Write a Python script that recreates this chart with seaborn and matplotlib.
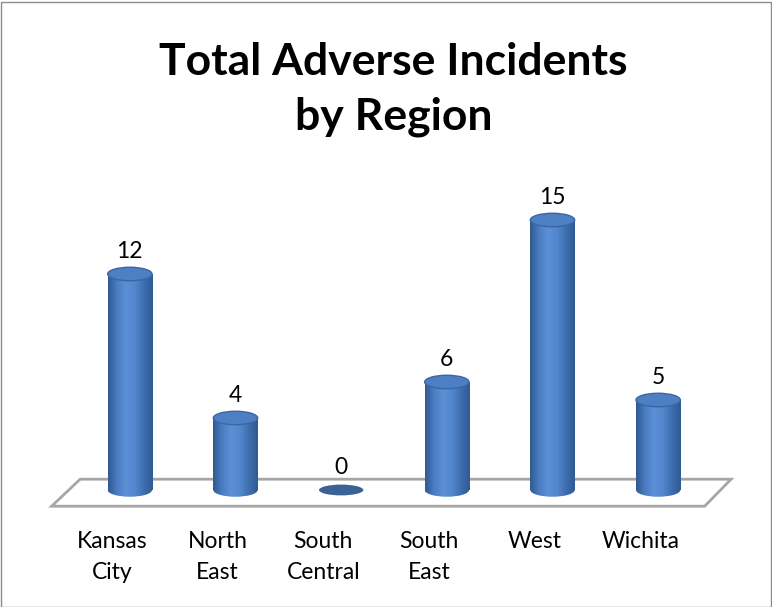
import matplotlib
matplotlib.use("Agg")
import matplotlib.pyplot as plt
import numpy as np
import seaborn as sns
from matplotlib.colors import LinearSegmentedColormap
from matplotlib.patches import Ellipse, Polygon, Rectangle

# Data
regions = ["Kansas\nCity", "North\nEast", "South\nCentral", "South\nEast", "West", "Wichita"]
incidents = [12, 4, 0, 6, 15, 5]
title = "Total Adverse Incidents\nby Region"

sns.set_style("white")
plt.rcParams["font.family"] = ["Lato", "DejaVu Sans"]
plt.rcParams["text.color"] = "black"

fig = plt.figure(figsize=(7.72, 6.07), dpi=100)
# axes placed so the bars line up with the reference
ax = fig.add_axes([77 / 772, 81 / 607, 634 / 772, 342 / 607])

bar_w = 0.42
sns.barplot(x=regions, y=incidents, ax=ax, width=bar_w, color="#4a7cc0",
            edgecolor="none", zorder=3)

# cylinder shading
cyl = LinearSegmentedColormap.from_list(
    "cyl", ["#2f5990", "#4b7dc2", "#5b8fd6", "#5288cf", "#3e6eae", "#2f5a92"])
grad = np.linspace(0, 1, 256).reshape(1, -1)
ell_h = 0.75

for i, (patch, val) in enumerate(zip(ax.patches, incidents)):
    x0 = patch.get_x()
    w = patch.get_width()
    xc = x0 + w / 2
    if val > 0:
        im = ax.imshow(grad, extent=(x0, x0 + w, -1, val), aspect="auto",
                       cmap=cyl, zorder=4)
        im.set_clip_path(patch)
        bottom = Ellipse((xc, 0), w, ell_h, facecolor="none", edgecolor="none", zorder=4)
        ax.add_patch(bottom)
        im2 = ax.imshow(grad, extent=(x0, x0 + w, -1, val), aspect="auto",
                        cmap=cyl, zorder=4)
        im2.set_clip_path(bottom)
        top = Ellipse((xc, val), w, ell_h, facecolor="#4d7fc4",
                      edgecolor="#3b66a3", lw=1.0, zorder=5)
        ax.add_patch(top)
    else:
        ax.add_patch(Ellipse((xc, 0), w, ell_h * 0.8, facecolor="#3a6295",
                             edgecolor="none", zorder=5))
    ax.text(xc, val + 1.25, str(val), ha="center", va="center",
            fontsize=16.5, color="black", zorder=6)
    # category label sits at the front edge of the floor (shifted left)
    ax.text(i - 0.17, -2.25, regions[i], ha="center", va="top",
            fontsize=16.5, color="black", linespacing=1.62)

# floor
floor = Polygon([(-0.47, 0.6), (5.69, 0.6), (5.44, -0.9), (-0.74, -0.9)],
                closed=True, facecolor="white", edgecolor="#a6a6a6", lw=2,
                zorder=1, clip_on=False)
ax.add_patch(floor)

ax.set_xlim(-0.5, 5.5)
ax.set_ylim(-2, 17)
ax.set_yticks([])
ax.set_xticks([])
ax.set_xlabel("")
ax.set_ylabel("")
sns.despine(ax=ax, left=True, bottom=True)
ax.patch.set_alpha(0)

fig.text(0.51, 0.775, title, ha="center", va="bottom", fontsize=32,
         fontweight="bold", linespacing=1.43)

# chart border
fig.add_artist(Rectangle((0.5 / 772, 0.5 / 607), 770 / 772, 605 / 607,
                         transform=fig.transFigure, fill=False,
                         edgecolor="#8c8c8c", lw=1))

fig.savefig("out.png", dpi=100)
